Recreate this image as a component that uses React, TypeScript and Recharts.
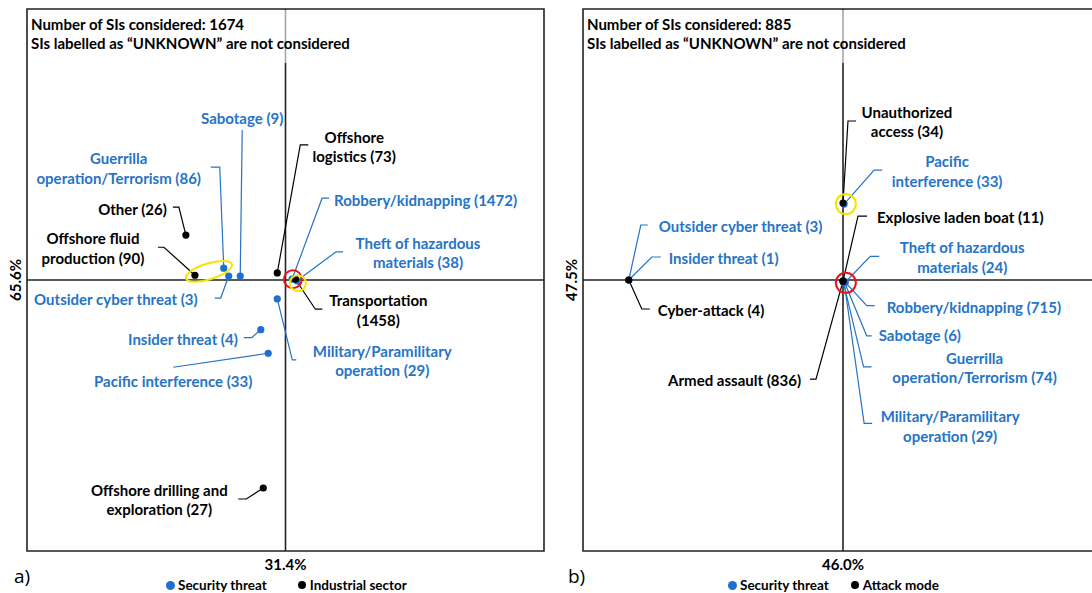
import React from "react";
import { ScatterChart, Scatter, XAxis, YAxis, ReferenceLine, ReferenceDot, ReferenceArea } from "recharts";

// ---------- Panel a data ----------
const threatA = [
  { name: "Sabotage", count: 9, x: 25.9, y: 66.1 },
  { name: "Guerrilla operation/Terrorism", count: 86, x: 23.9, y: 67.1 },
  { name: "Outsider cyber threat", count: 3, x: 24.5, y: 66.1 },
  { name: "Robbery/kidnapping", count: 1472, x: 32.2, y: 65.7 },
  { name: "Theft of hazardous materials", count: 38, x: 32.8, y: 65.5 },
  { name: "Military/Paramilitary operation", count: 29, x: 30.4, y: 63.2 },
  { name: "Insider threat", count: 4, x: 28.4, y: 59.3 },
  { name: "Pacific interference", count: 33, x: 29.3, y: 56.3 },
];
const sectorA = [
  { name: "Other", count: 26, x: 19.3, y: 71.3 },
  { name: "Offshore fluid production", count: 90, x: 20.4, y: 66.2 },
  { name: "Offshore logistics", count: 73, x: 30.4, y: 66.5 },
  { name: "Transportation", count: 1458, x: 32.6, y: 65.7 },
  { name: "Offshore drilling and exploration", count: 27, x: 28.7, y: 39.2 },
];
const meanA = { x: 31.4, y: 65.6 };
const domainXA = [0, 62.8];
const domainYA = [31.2, 100];
const totalA = 1674;

// ---------- Panel b data ----------
const threatB = [
  { name: "Outsider cyber threat", count: 3, x: 8.1, y: 47.5 },
  { name: "Insider threat", count: 1, x: 8.1, y: 47.5 },
  { name: "Pacific interference", count: 33, x: 46.2, y: 60.8 },
  { name: "Theft of hazardous materials", count: 24, x: 46.4, y: 47.1 },
  { name: "Robbery/kidnapping", count: 715, x: 46.3, y: 47.2 },
  { name: "Sabotage", count: 6, x: 46.3, y: 47.0 },
  { name: "Guerrilla operation/Terrorism", count: 74, x: 46.1, y: 47.0 },
  { name: "Military/Paramilitary operation", count: 29, x: 46.2, y: 47.1 },
];
const modeB = [
  { name: "Cyber-attack", count: 4, x: 8.1, y: 47.5 },
  { name: "Unauthorized access", count: 34, x: 46.0, y: 61.0 },
  { name: "Explosive laden boat", count: 11, x: 46.0, y: 47.3 },
  { name: "Armed assault", count: 836, x: 46.0, y: 47.3 },
];
const meanB = { x: 46.0, y: 47.5 };
const domainXB = [0, 92];
const domainYB = [0, 95];
const totalB = 885;

const legendA = ["Security threat", "Industrial sector"];
const legendB = ["Security threat", "Attack mode"];

// ---------- styles / layout ----------
const FONT = "Lato, 'Open Sans', sans-serif";
const BLUE_DOT = "#1F6FD1";
const BLUE_TXT = "#2574C6";
const BLACK = "#000";
const RED = "#E8141B";
const YELLOW = "#F2E600";

type Lay = { dx: number; dy: number; anchor?: "start" | "middle" | "end"; split?: number; path: number[][] };

const layThreatA: Record<string, Lay> = {
  "Sabotage": { dx: 2, dy: -158, path: [[2, -146], [0, 0]] },
  "Guerrilla operation/Terrorism": { dx: -105, dy: -110, split: 1, path: [[-13, -101], [-4, -101], [0, 0]] },
  "Outsider cyber threat": { dx: -31, dy: 23, anchor: "end", path: [[-14, 22], [-8, 22], [0, 0]] },
  "Robbery/kidnapping": { dx: 42, dy: -79, anchor: "start", path: [[37, -81], [30, -81], [0, 0]] },
  "Theft of hazardous materials": { dx: 121, dy: -38, split: 3, path: [[46, -29], [39, -29], [0, 0]] },
  "Military/Paramilitary operation": { dx: 105, dy: 52, split: 1, path: [[19, 61], [15, 61], [0, 0]] },
  "Insider threat": { dx: -23, dy: 9, anchor: "end", path: [[-17, 8], [-9, 8], [0, 0]] },
  "Pacific interference": { dx: -95, dy: 28, path: [[-95, 14], [0, 0]] },
};
const laySectorA: Record<string, Lay> = {
  "Other": { dx: -19, dy: -26, anchor: "end", path: [[-13, -28], [-7, -28], [0, 0]] },
  "Offshore fluid production": { dx: -102, dy: -37, split: 2, path: [[-37, -28], [-31, -28], [0, 0]] },
  "Offshore logistics": { dx: 77, dy: -136, split: 1, path: [[31, -128], [23, -128], [0, 0]] },
  "Transportation": { dx: 83, dy: 21, split: 1, path: [[27, 30], [20, 30], [0, 0]] },
  "Offshore drilling and exploration": { dx: -104, dy: 2, split: 3, path: [[-25, 11], [-17, 11], [0, 0]] },
};
const layThreatB: Record<string, Lay> = {
  "Outsider cyber threat": { dx: 30, dy: -54, anchor: "start", path: [[19, -55], [12, -55], [0, 0]] },
  "Insider threat": { dx: 40, dy: -22, anchor: "start", path: [[32, -23], [23, -23], [0, 0]] },
  "Pacific interference": { dx: 103, dy: -43, split: 1, path: [[38, -34], [30, -34], [0, 0]] },
  "Theft of hazardous materials": { dx: 117, dy: -35, split: 3, path: [[34, -26], [25, -26], [0, 0]] },
  "Robbery/kidnapping": { dx: 42, dy: 25, anchor: "start", path: [[30, 24], [22, 24], [0, 0]] },
  "Sabotage": { dx: 34, dy: 52, anchor: "start", path: [[27, 53], [22, 53], [0, 0]] },
  "Guerrilla operation/Terrorism": { dx: 131, dy: 75, split: 1, path: [[28, 84], [20, 84], [0, 0]] },
  "Military/Paramilitary operation": { dx: 106, dy: 134, split: 1, path: [[28, 141], [20, 141], [0, 0]] },
};
const layModeB: Record<string, Lay> = {
  "Cyber-attack": { dx: 29, dy: 30, anchor: "start", path: [[21, 29], [13, 29], [0, 0]] },
  "Unauthorized access": { dx: 64, dy: -91, split: 1, path: [[13, -82], [5, -82], [0, 0]] },
  "Explosive laden boat": { dx: 34, dy: -64, anchor: "start", path: [[24, -65], [15, -65], [0, 0]] },
  "Armed assault": { dx: -42, dy: 99, anchor: "end", path: [[-33, 98], [-27, 98], [0, 0]] },
};

const labelShape = (lay: Record<string, Lay>, lineColor: string, textColor: string) => (props: any) => {
  const { cx, cy, payload } = props;
  const L = lay[payload.name];
  if (!L || cx == null) return <g />;
  const label = `${payload.name} (${payload.count})`;
  const words = label.split(" ");
  const lines = L.split ? [words.slice(0, L.split).join(" "), words.slice(L.split).join(" ")] : [label];
  const pts = L.path.map(([dx, dy]) => `${cx + dx},${cy + dy}`).join(" ");
  return (
    <g>
      <polyline points={pts} fill="none" stroke={lineColor} strokeWidth={1.2} />
      {lines.map((t, i) => (
        <text key={i} x={cx + L.dx} y={cy + L.dy + i * 19.5} textAnchor={L.anchor || "middle"}
          dominantBaseline="central" fill={textColor} fontSize={15} fontWeight={700} fontFamily={FONT}>{t}</text>
      ))}
    </g>
  );
};

const dotShape = (color: string) => (props: any) => {
  const { cx, cy } = props;
  if (cx == null) return <g />;
  return <circle cx={cx} cy={cy} r={3.6} fill={color} />;
};

const YTick = (props: any) => {
  const { x, y, payload } = props;
  const cx = x - 4;
  return (
    <text x={cx} y={y} transform={`rotate(-90 ${cx} ${y})`} textAnchor="middle" dominantBaseline="central"
      fill="#000" fontSize={15} fontWeight={700} fontFamily={FONT}>{`${Number(payload.value).toFixed(1)}%`}</text>
  );
};

const ringShape = (rx: number, ry: number, rot: number, color: string) => (p: any) => (
  <ellipse cx={p.cx} cy={p.cy} rx={rx} ry={ry} fill="none" stroke={color} strokeWidth={2}
    transform={`rotate(${rot} ${p.cx} ${p.cy})`} />
);

type PanelProps = {
  left: number; width: number; marginLeft: number; marginRight: number;
  threat: any[]; other: any[]; layT: Record<string, Lay>; layO: Record<string, Lay>;
  mean: { x: number; y: number }; dx: number[]; dy: number[];
  rings: React.ReactNode;
};

const Panel = ({ left, width, marginLeft, marginRight, threat, other, layT, layO, mean, dx, dy, rings }: PanelProps) => (
  <div style={{ position: "absolute", left, top: 0 }}>
    <ScatterChart width={width} height={593} margin={{ top: 9, right: marginRight, bottom: 22, left: marginLeft }}>
      <XAxis dataKey="x" type="number" domain={dx} ticks={[mean.x]} allowDataOverflow
        tickFormatter={(v: number) => `${v.toFixed(1)}%`} axisLine={false} tickLine={false} height={20}
        tick={{ fill: "#000", fontSize: 15, fontWeight: 700, fontFamily: FONT }} />
      <YAxis dataKey="y" type="number" domain={dy} ticks={[mean.y]} allowDataOverflow
        axisLine={false} tickLine={false} width={27} tick={<YTick />} />
      <ReferenceArea x1={dx[0]} x2={dx[1]} y1={dy[0]} y2={dy[1]} fill="none" fillOpacity={0} stroke="#222" strokeWidth={1.6} />
      <ReferenceLine x={mean.x} stroke="#222" strokeWidth={1.6} />
      <ReferenceLine y={mean.y} stroke="#222" strokeWidth={1.6} />
      <Scatter data={other} legendType="none" isAnimationActive={false} shape={labelShape(layO, BLACK, BLACK)} />
      <Scatter data={threat} legendType="none" isAnimationActive={false} shape={labelShape(layT, BLUE_TXT, BLUE_TXT)} />
      <Scatter data={threat} legendType="none" isAnimationActive={false} shape={dotShape(BLUE_DOT)} />
      <Scatter data={other} legendType="none" isAnimationActive={false} shape={dotShape(BLACK)} />
      {rings}
    </ScatterChart>
  </div>
);

const Title = ({ left, total }: { left: number; total: number }) => (
  <div style={{
    position: "absolute", left, top: 10, width: 340, height: 53, background: "rgba(255,255,255,0.6)",
    fontFamily: FONT, fontWeight: 700, fontSize: 15, lineHeight: "19px", color: "#000", paddingTop: 5, paddingLeft: 3,
    boxSizing: "border-box", whiteSpace: "nowrap",
  }}>
    <div>{`Number of SIs considered: ${total}`}</div>
    <div>SIs labelled as “UNKNOWN” are not considered</div>
  </div>
);

const Legend = ({ left, items, gap }: { left: number; items: string[]; gap: number }) => (
  <div style={{ position: "absolute", left, top: 577, display: "flex", alignItems: "center", fontFamily: FONT, fontWeight: 700, fontSize: 13.5, color: "#000", whiteSpace: "nowrap" }}>
    <span style={{ display: "inline-block", width: 9, height: 9, borderRadius: 5, background: BLUE_DOT, marginRight: 3 }} />
    <span style={{ marginRight: gap }}>{items[0]}</span>
    <span style={{ display: "inline-block", width: 8, height: 8, borderRadius: 4, background: BLACK, marginRight: 4 }} />
    <span>{items[1]}</span>
  </div>
);

export default function App() {
  return (
    <div style={{ position: "absolute", left: 0, top: 0, width: 1092, height: 593, overflow: "hidden", background: "#fff" }}>
      <Panel left={0} width={546} marginLeft={0} marginRight={2} threat={threatA} other={sectorA}
        layT={layThreatA} layO={laySectorA} mean={meanA} dx={domainXA} dy={domainYA}
        rings={[
          <ReferenceDot key="r" x={32.3} y={65.7} r={9} fill="none" stroke={RED} strokeWidth={2} shape={ringShape(9, 9, 0, RED)} />,
          <ReferenceDot key="y1" x={32.9} y={65.2} r={8} fill="none" stroke={YELLOW} strokeWidth={2} shape={ringShape(8, 8, 0, YELLOW)} />,
          <ReferenceDot key="y2" x={22.1} y={66.7} r={8} fill="none" stroke={YELLOW} strokeWidth={2} shape={ringShape(24, 8, -17, YELLOW)} />,
        ]} />
      <Panel left={546} width={560} marginLeft={10} marginRight={3} threat={threatB} other={modeB}
        layT={layThreatB} layO={layModeB} mean={meanB} dx={domainXB} dy={domainYB}
        rings={[
          <ReferenceDot key="r" x={46.5} y={47.0} r={10} fill="none" stroke={RED} strokeWidth={2} shape={ringShape(10, 10, 0, RED)} />,
          <ReferenceDot key="y" x={46.5} y={60.8} r={10} fill="none" stroke={YELLOW} strokeWidth={2} shape={ringShape(10, 10, 0, YELLOW)} />,
        ]} />
      <Title left={28} total={totalA} />
      <Title left={584} total={totalB} />
      <div style={{ position: "absolute", left: 14, top: 563, fontFamily: "'Open Sans', sans-serif", fontSize: 19, color: "#000" }}>a)</div>
      <div style={{ position: "absolute", left: 568, top: 563, fontFamily: "'Open Sans', sans-serif", fontSize: 19, color: "#000" }}>b)</div>
      <Legend left={166} items={legendA} gap={31} />
      <Legend left={728} items={legendB} gap={22} />
    </div>
  );
}
